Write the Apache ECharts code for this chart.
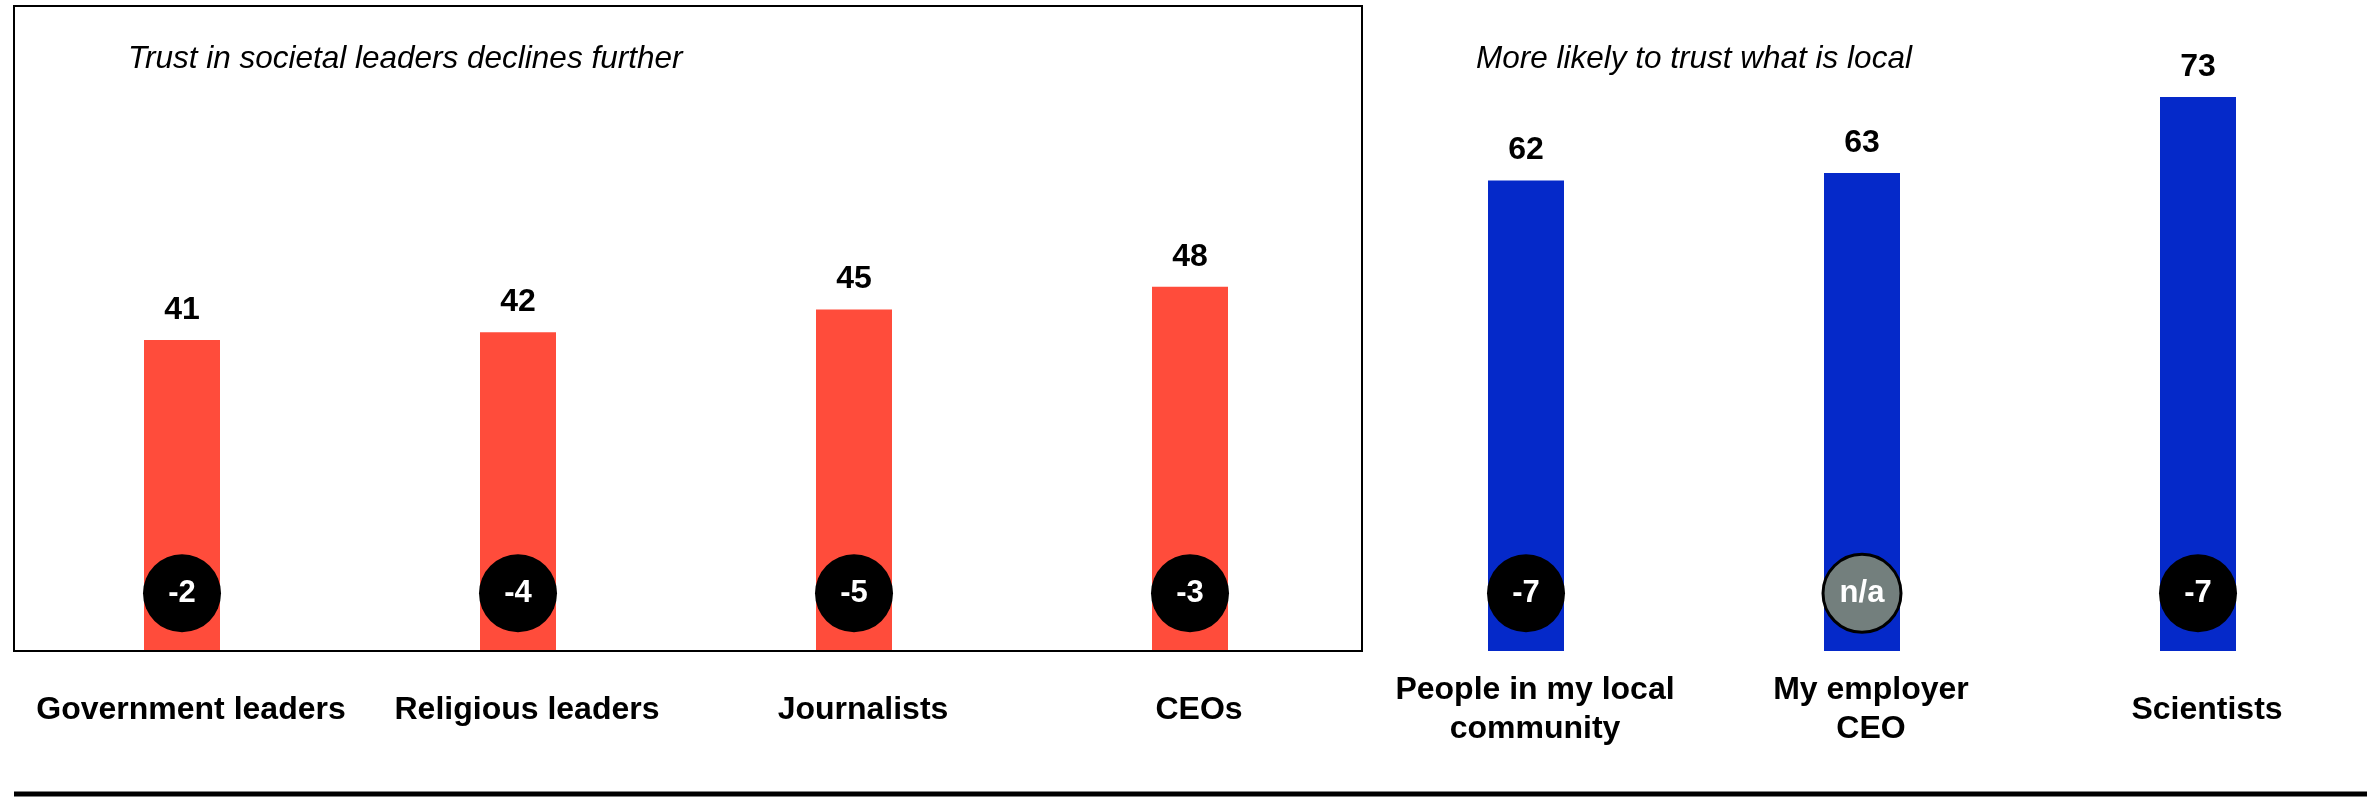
<!DOCTYPE html>
<html>
<head>
<meta charset="utf-8">
<script src="https://cdn.jsdelivr.net/npm/echarts@6/dist/echarts.min.js"></script>
<style>
html,body{margin:0;padding:0;background:#fff;}
#chart{width:2367px;height:797px;}
</style>
</head>
<body>
<div id="chart"></div>
<script>
// ---- data ----
const leaderCategories = ['Government leaders', 'Religious leaders', 'Journalists', 'CEOs'];
const localCategories = ['People in my local\ncommunity', 'My employer\nCEO', 'Scientists'];
const leaderValues = [41, 42, 45, 48];
const localValues = [62, 63, 73];
const leaderChanges = ['-2', '-4', '-5', '-3'];
const localChanges = ['-7', 'n/a', '-7'];
const leftTitle = 'Trust in societal leaders declines further';
const rightTitle = 'More likely to trust what is local';

// ---- layout / style ----
const W = 2367, H = 797;
const gridLeft = 14, gridRight = 1, gridTop = 6, gridBottom = 146;
const yMax = 85;
const badgeY = 7.6;
const FONT = '"Liberation Sans", Arial, Helvetica, sans-serif';
const RED = '#ff4c3b', BLUE = '#0529c9', GREY = '#737f7d';

const categories = leaderCategories.concat(localCategories);
const nL = leaderCategories.length;
const redData = leaderValues.concat(localValues.map(() => null));
const blueData = leaderValues.map(() => null).concat(localValues);
const changes = leaderChanges.concat(localChanges);

const plotW = W - gridLeft - gridRight;
const band = plotW / categories.length;
const plotH = H - gridTop - gridBottom;

const chart = echarts.init(document.getElementById('chart'), null, {renderer: 'canvas'});

const valueLabel = {
  show: true, position: 'top', distance: 14,
  fontFamily: FONT, fontSize: 32, fontWeight: 'bold', color: '#000'
};
const titleStyle = {fontFamily: FONT, fontSize: 31.5, fontStyle: 'italic', fontWeight: 'normal', color: '#000'};

chart.setOption({
  backgroundColor: '#fff',
  animation: false,
  textStyle: {fontFamily: FONT},
  title: [
    {text: leftTitle, left: 128, top: 43, padding: 0, textStyle: titleStyle},
    {text: rightTitle, left: 1476, top: 43, padding: 0, textStyle: titleStyle}
  ],
  grid: {left: gridLeft, right: gridRight, top: gridTop, bottom: gridBottom, containLabel: false},
  xAxis: {
    type: 'category', data: categories,
    axisLine: {show: false}, axisTick: {show: false}, splitLine: {show: false},
    axisLabel: {
      interval: 0, margin: 59, verticalAlign: 'middle', padding: [0, 0, 0, 18],
      fontFamily: FONT, fontSize: 32, fontWeight: 'bold', color: '#000', lineHeight: 39
    }
  },
  yAxis: {type: 'value', min: 0, max: yMax, show: false},
  series: [
    {type: 'bar', data: redData, barWidth: 76, barGap: '-100%',
     itemStyle: {color: RED}, label: valueLabel, z: 2},
    {type: 'bar', data: blueData, barWidth: 76, barGap: '-100%',
     itemStyle: {color: BLUE}, label: valueLabel, z: 2},
    {type: 'scatter', symbol: 'circle', symbolSize: 78, z: 5,
     itemStyle: {opacity: 1},
     data: changes.map((c, i) => ({
       value: [i, badgeY],
       itemStyle: c === 'n/a'
         ? {color: GREY, borderColor: '#000', borderWidth: 3, opacity: 1}
         : {color: '#000', opacity: 1}
     })),
     label: {
       show: true, position: 'inside',
       formatter: p => changes[p.dataIndex],
       fontFamily: FONT, fontSize: 31, fontWeight: 'bold', color: '#fff'
     }}
  ],
  graphic: [
    {type: 'rect', z: 10, silent: true,
     shape: {x: gridLeft, y: gridTop, width: band * nL + 4, height: plotH},
     style: {fill: 'none', stroke: '#000', lineWidth: 2}},
    {type: 'line', z: 10, silent: true,
     shape: {x1: gridLeft, y1: H - 3, x2: W, y2: H - 3},
     style: {stroke: '#000', lineWidth: 5}}
  ]
});
</script>
</body>
</html>
